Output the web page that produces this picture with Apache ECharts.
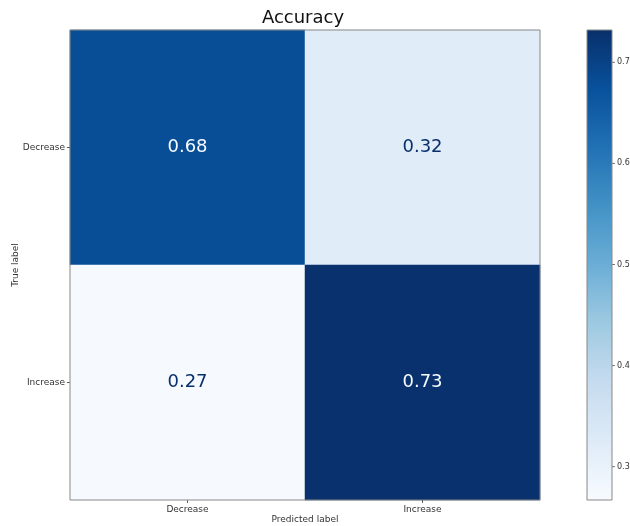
<!DOCTYPE html>
<html>
<head>
<meta charset="utf-8">
<script src="https://cdn.jsdelivr.net/npm/echarts@6/dist/echarts.min.js"></script>
<style>
  html, body { margin: 0; padding: 0; background: #fff; }
  #chart { width: 630px; height: 526px; }
</style>
</head>
<body>
<div id="chart"></div>
<script>
const predicted = ['Decrease', 'Increase']
const actual = ['Decrease', 'Increase']
// rows = true label, columns = predicted label
const matrix = [
  [0.68, 0.32],
  [0.27, 0.73]
]
const scaleMin = 0.267
const scaleMax = 0.732
const barTicks = [0.3, 0.4, 0.5, 0.6, 0.7]

// matplotlib "Blues"
const blues = ['#f7fbff', '#deebf7', '#c6dbef', '#9ecae1', '#6baed6', '#4292c6', '#2171b5', '#08519c', '#08306b']

const cells = []
matrix.forEach((row, r) => row.forEach((v, c) => cells.push([c, r, v])))

const mid = (scaleMin + scaleMax) / 2
const font = 'DejaVu Sans'

const chart = echarts.init(document.getElementById('chart'), null, { renderer: 'canvas' })
chart.setOption({
  backgroundColor: '#fff',
  animation: false,
  textStyle: { fontFamily: font },
  title: {
    text: 'Accuracy',
    left: 303,
    textAlign: 'center',
    top: 9,
    padding: 0,
    textStyle: { fontFamily: font, fontSize: 18, fontWeight: 'normal', color: '#111' }
  },
  grid: [
    { left: 70, right: 90, top: 30, bottom: 26, show: true, borderColor: '#888', borderWidth: 1, z: 5, outerBoundsMode: 'none', containLabel: false },
    { left: 587, width: 25, top: 30, bottom: 26, show: true, borderColor: '#888', borderWidth: 1, z: 5, outerBoundsMode: 'none', containLabel: false }
  ],
  xAxis: [
    {
      type: 'category', data: predicted, gridIndex: 0, position: 'bottom',
      name: 'Predicted label', nameLocation: 'middle', nameGap: 15, nameMoveOverlap: false,
      nameTextStyle: { fontSize: 9, color: '#333' },
      axisLine: { show: false },
      axisTick: { show: true, alignWithLabel: true, length: 3, lineStyle: { color: '#555' } },
      axisLabel: { fontSize: 9, color: '#333', margin: 5 },
      splitLine: { show: false }
    },
    { type: 'category', data: ['cb'], gridIndex: 1, show: false }
  ],
  yAxis: [
    {
      type: 'category', data: actual, gridIndex: 0, inverse: true,
      name: 'True label', nameLocation: 'middle', nameGap: 50, nameRotate: 90, nameMoveOverlap: false,
      nameTextStyle: { fontSize: 9, color: '#333' },
      axisLine: { show: false },
      axisTick: { show: true, alignWithLabel: true, length: 3, lineStyle: { color: '#555' } },
      axisLabel: { fontSize: 9, color: '#333', margin: 5 },
      splitLine: { show: false }
    },
    {
      type: 'value', gridIndex: 1, position: 'right', min: scaleMin, max: scaleMax,
      axisLine: { show: false },
      axisTick: { show: false },
      splitLine: { show: false },
      axisLabel: {
        fontSize: 8, color: '#333', margin: 5,
        customValues: barTicks,
        formatter: v => v.toFixed(1)
      }
    }
  ],
  visualMap: {
    show: false, type: 'continuous', seriesIndex: 0, dimension: 2,
    min: scaleMin, max: scaleMax,
    inRange: { color: blues }
  },
  series: [
    {
      type: 'heatmap', xAxisIndex: 0, yAxisIndex: 0,
      data: cells.map(d => ({
        value: d,
        label: { color: d[2] > mid ? '#f7fbff' : '#08306b' }
      })),
      label: {
        show: true, fontSize: 18, fontFamily: font,
        formatter: p => p.value[2].toFixed(2)
      },
      itemStyle: { borderWidth: 0 }
    },
    {
      type: 'custom', xAxisIndex: 1, yAxisIndex: 1, data: [[0, scaleMin, scaleMax]],
      renderItem: (params, api) => {
        const top = api.coord([api.value(0), api.value(2)])
        const bot = api.coord([api.value(0), api.value(1)])
        const w = api.size([1, 0])[0]
        return {
          type: 'rect',
          shape: { x: top[0] - w / 2, y: top[1], width: w, height: bot[1] - top[1] },
          style: {
            fill: new echarts.graphic.LinearGradient(0, 1, 0, 0,
              blues.map((c, i) => ({ offset: i / (blues.length - 1), color: c })))
          }
        }
      }
    },
    {
      // small tick marks on the colorbar
      type: 'scatter', xAxisIndex: 1, yAxisIndex: 1, silent: true,
      data: barTicks.map(t => [0, t]),
      symbol: 'rect', symbolSize: [3, 1], symbolOffset: [14, 0],
      itemStyle: { color: '#555' }
    }
  ]
})
</script>
</body>
</html>
